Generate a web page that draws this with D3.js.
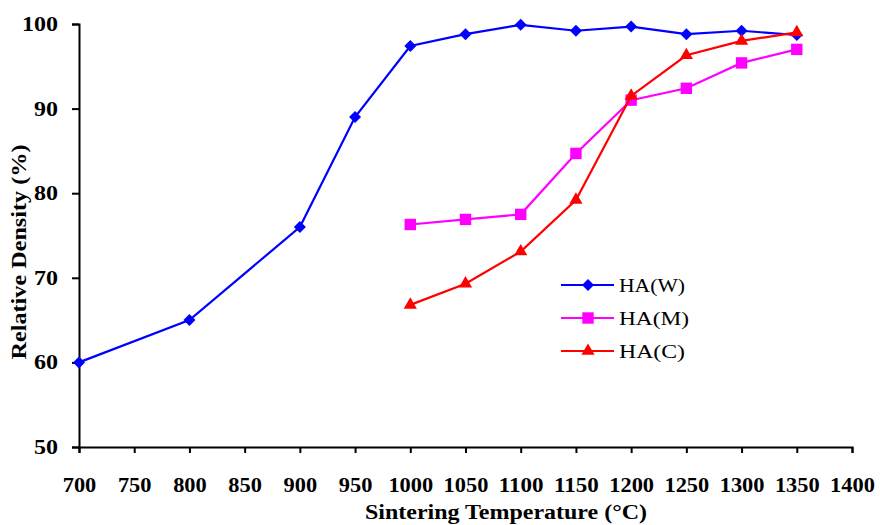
<!DOCTYPE html>
<html>
<head>
<meta charset="utf-8">
<script src="https://cdn.jsdelivr.net/npm/d3@7"></script>
<style>
  body { margin: 0; background: #fff; }
  text { font-family: "Liberation Serif", "Times New Roman", serif; }
</style>
</head>
<body>
<div id="canvas"></div>
<script>
const temps = [700, 800, 900, 950, 1000, 1050, 1100, 1150, 1200, 1250, 1300, 1350];
const haW = [60, 65, 76, 89, 97.4, 98.8, 99.9, 99.2, 99.7, 98.8, 99.2, 98.7];
const tempsMC = [1000, 1050, 1100, 1150, 1200, 1250, 1300, 1350];
const haM = [76.3, 76.9, 77.5, 84.7, 91, 92.4, 95.4, 97];
const haC = [66.8, 69.3, 73.1, 79.2, 91.5, 96.3, 98, 99];
const seriesNames = ["HA(W)", "HA(M)", "HA(C)"];
const xTicks = d3.range(700, 1401, 50);
const yTicks = [50, 60, 70, 80, 90, 100];

const width = 880;
const height = 525;
const margin = { top: 24, left: 79, bottom: 78, right: 28 };
const iwidth = width - margin.left - margin.right;
const iheight = height - margin.top - margin.bottom;

const svg = d3.select("#canvas").append("svg")
    .attr("width", width)
    .attr("height", height);

const g = svg.append("g").attr("transform", `translate(${margin.left},${margin.top})`);

const x = d3.scaleLinear().domain([700, 1400]).range([0, iwidth]);
const y = d3.scaleLinear().domain([50, 100]).range([iheight, 0]);

// axes
const xAxis = g.append("g")
    .attr("transform", `translate(0,${iheight})`)
    .call(d3.axisBottom(x).tickValues(xTicks).tickFormat(d3.format("d")).tickSize(6).tickSizeOuter(6).tickPadding(25));
const yAxis = g.append("g")
    .call(d3.axisLeft(y).tickValues(yTicks).tickSize(7).tickSizeOuter(7).tickPadding(14));

[xAxis, yAxis].forEach(a => {
    a.selectAll("path, line").attr("stroke", "#000").attr("stroke-width", 2);
    a.selectAll("text")
        .style("font-family", "'Liberation Serif', serif")
        .style("font-size", "20px")
        .style("font-weight", "bold")
        .attr("fill", "#000");
});
xAxis.selectAll("text").attr("textLength", d => String(d).length * 11.2).attr("lengthAdjust", "spacingAndGlyphs");
yAxis.selectAll("text").attr("textLength", d => String(d).length * 12).attr("lengthAdjust", "spacingAndGlyphs");

const series = [
    { name: seriesNames[0], xs: temps, ys: haW, color: "#0000ff", shape: d3.symbolSquare, size: 72, rot: 45 },
    { name: seriesNames[1], xs: tempsMC, ys: haM, color: "#ff00ff", shape: d3.symbolSquare, size: 130, rot: 0 },
    { name: seriesNames[2], xs: tempsMC, ys: haC, color: "#ff0000", shape: d3.symbolTriangle, size: 75, rot: 0 }
];

const line = d3.line().x(d => x(d[0])).y(d => y(d[1]));

series.forEach(s => {
    const pts = s.xs.map((t, i) => [t, s.ys[i]]);
    g.append("path")
        .datum(pts)
        .attr("fill", "none")
        .attr("stroke", s.color)
        .attr("stroke-width", 2.2)
        .attr("d", line);
    g.selectAll(null)
        .data(pts)
        .enter().append("path")
        .attr("d", d3.symbol().type(s.shape).size(s.size))
        .attr("transform", d => `translate(${x(d[0])},${y(d[1])}) rotate(${s.rot})`)
        .attr("fill", s.color);
});

// legend
const legend = svg.append("g").attr("transform", "translate(561,285)");
series.forEach((s, i) => {
    const row = legend.append("g").attr("transform", `translate(0,${i * 33})`);
    row.append("line")
        .attr("x1", 0).attr("x2", 53)
        .attr("stroke", s.color).attr("stroke-width", 2.2);
    row.append("path")
        .attr("d", d3.symbol().type(s.shape).size(s.size))
        .attr("transform", `translate(27,0) rotate(${s.rot})`)
        .attr("fill", s.color);
    row.append("text")
        .attr("x", 58).attr("y", 7)
        .style("font-size", "19px")
        .attr("textLength", s.name === "HA(M)" ? 70 : 66)
        .attr("lengthAdjust", "spacingAndGlyphs")
        .text(s.name);
});

// axis titles
svg.append("text")
    .attr("x", 506)
    .attr("y", 519)
    .attr("text-anchor", "middle")
    .style("font-size", "20px")
    .style("font-weight", "bold")
    .attr("textLength", 282)
    .attr("lengthAdjust", "spacingAndGlyphs")
    .text("Sintering Temperature (°C)");

svg.append("text")
    .attr("transform", "translate(26,252) rotate(-90)")
    .attr("text-anchor", "middle")
    .style("font-size", "21px")
    .style("font-weight", "bold")
    .attr("textLength", 215)
    .attr("lengthAdjust", "spacingAndGlyphs")
    .text("Relative Density (%)");
</script>
</body>
</html>
